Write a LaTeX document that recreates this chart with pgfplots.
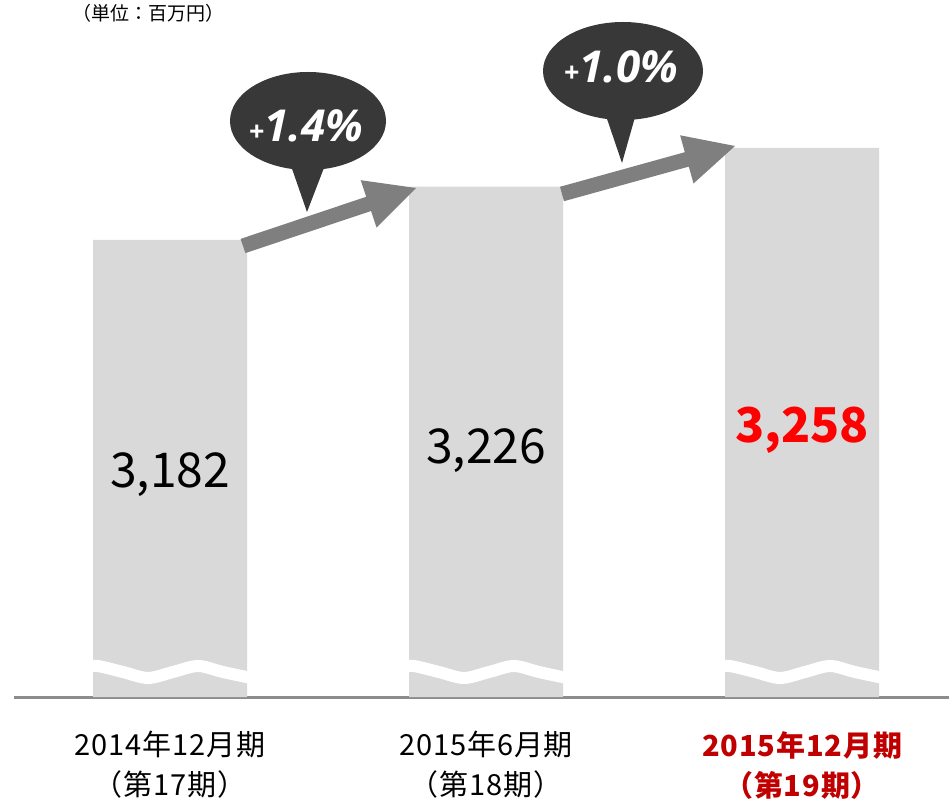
\documentclass[border=0pt]{standalone}
\usepackage{fontspec}
\setmainfont{Noto Sans CJK JP}
\newfontfamily\pctfont{Open Sans}
\usepackage{pgfplots}
\pgfplotsset{compat=1.18}
\definecolor{barGray}{HTML}{D9D9D9}
\definecolor{arrowGray}{HTML}{7F7F7F}
\definecolor{bubbleGray}{HTML}{383838}
\definecolor{baseGray}{HTML}{8C8C8C}
\definecolor{valRed}{HTML}{FF0000}
\definecolor{labRed}{HTML}{C00000}

\begin{document}
\begin{tikzpicture}
\useasboundingbox (0,0) rectangle (949pt,801pt);
\begin{axis}[
  at={(14pt,104pt)}, anchor=south west,
  scale only axis, width=935pt, height=697pt,
  xmin=-0.494, xmax=2.465, ymin=2804.3, ymax=3380.3,
  ybar, bar width=154pt,
  axis x line=bottom, axis y line=none,
  x axis line style={-, draw=baseGray, line width=3pt},
  xtick={0,1,2}, major tick length=0pt,
  xticklabels={
    {2014年12月期\\（第17期）},
    {2015年6月期\\（第18期）},
    {\color{labRed}\bfseries 2015年12月期\\\color{labRed}\bfseries（第19期）}},
  xticklabel style={align=center, anchor=north, inner sep=0pt, yshift=-34pt,
    font=\fontsize{29}{40}\selectfont\addfontfeatures{LetterSpace=3}},
]
\addplot[fill=barGray, draw=none] coordinates {(0,3182) (1,3226) (2,3258)};
\node[font=\fontsize{48}{48}\selectfont] at (axis cs:0,2988) {3,182};
\node[font=\fontsize{48}{48}\selectfont] at (axis cs:1,3008) {3,226};
\node[font=\fontsize{48}{48}\selectfont\bfseries, text=valRed] at (axis cs:2,3025) {3,258};
\end{axis}

% annotations in picture pixels (origin top left)
\begin{scope}[x=1pt, y=-1pt, shift={(0pt,801pt)}]
  \node[font=\fontsize{19}{19}\selectfont] at (148,13) {（単位：百万円）};
  % broken-axis waves
  \foreach \L in {93,409,725}{
    \draw[white, line width=12pt] plot[smooth] coordinates
      {(\L-4,667) (\L+5,666) (\L+30,672) (\L+55,678) (\L+80,672) (\L+105,666) (\L+130,672) (\L+158,678)};
  }
  % growth arrows
  \fill[arrowGray] (245.4,253.1) -- (371.0,211.0) -- (376.6,227.6) -- (416,188)
    -- (360.7,180.2) -- (366.2,196.8) -- (240.6,238.9) -- cycle;
  \fill[arrowGray] (564.0,201.2) -- (688.8,166.6) -- (693.5,183.5) -- (735,146)
    -- (680.1,135.3) -- (684.8,152.2) -- (560.0,186.8) -- cycle;
  % bubbles
  \fill[bubbleGray] (308,121) ellipse [x radius=78pt, y radius=49pt];
  \fill[bubbleGray] (289,160) -- (307,212) -- (327,160) -- cycle;
  \node[text=white, font=\pctfont\bfseries\itshape] at (306,126)
    {{\fontsize{28}{28}\selectfont +}{\fontsize{44}{44}\selectfont 1.4\%}};
  \fill[bubbleGray] (623,71) ellipse [x radius=80pt, y radius=49pt];
  \fill[bubbleGray] (604,110) -- (622,163) -- (637,110) -- cycle;
  \node[text=white, font=\pctfont\bfseries\itshape] at (621,67)
    {{\fontsize{28}{28}\selectfont +}{\fontsize{44}{44}\selectfont 1.0\%}};
\end{scope}
\end{tikzpicture}
\end{document}
